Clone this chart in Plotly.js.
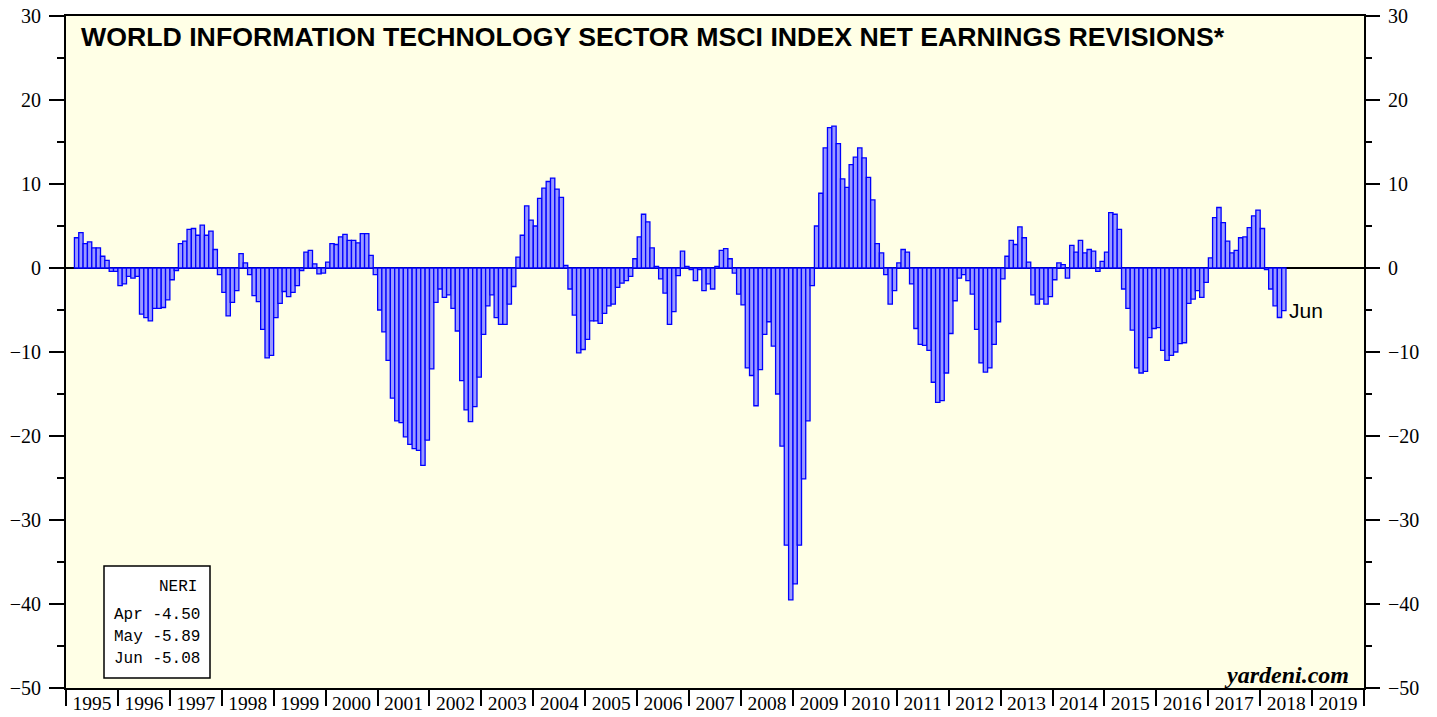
<!DOCTYPE html>
<html>
<head>
<meta charset="utf-8">
<script src="https://cdn.plot.ly/plotly-3.0.1.min.js"></script>
<style>html,body{margin:0;padding:0;background:#fff;}#chart{width:1437px;height:717px;}</style>
</head>
<body>
<div id="chart"></div>
<script>
// Monthly NERI values, starting March 1995
const startYear = 1995, startMonth = 3;
const y1995 = [3.6, 4.2, 2.9, 3.1, 2.4, 2.4, 1.4, 0.9, -0.4, -0.4];
const y1996 = [-2.1, -1.9, -1.0, -1.2, -1.0, -5.5, -5.9, -6.3, -4.8, -4.8, -4.7, -3.8];
const y1997 = [-1.4, -0.3, 2.9, 3.2, 4.6, 4.7, 3.9, 5.1, 3.9, 4.4, 2.2, -0.8];
const y1998 = [-2.9, -5.7, -4.1, -2.7, 1.7, 0.6, -0.8, -3.3, -4.0, -7.3, -10.7, -10.4];
const y1999 = [-5.9, -4.2, -2.8, -3.4, -2.9, -2.1, -0.3, 1.9, 2.1, 0.5, -0.7, -0.6];
const y2000 = [0.7, 2.9, 2.8, 3.7, 4.0, 3.3, 3.3, 3.0, 4.1, 4.1, 1.5, -0.8];
const y2001 = [-5.0, -7.6, -11.0, -15.5, -18.2, -18.4, -20.1, -21.0, -21.5, -21.7, -23.5, -20.5];
const y2002 = [-12.0, -4.1, -2.5, -3.5, -3.2, -4.8, -7.5, -13.4, -16.9, -18.3, -16.5, -13.0];
const y2003 = [-7.9, -4.5, -3.2, -5.9, -6.7, -6.7, -4.3, -2.2, 1.3, 3.9, 7.4, 5.7];
const y2004 = [5.0, 8.3, 9.5, 10.3, 10.7, 9.4, 8.4, 0.3, -2.5, -5.6, -10.1, -9.7];
const y2005 = [-8.5, -6.3, -6.3, -6.6, -5.4, -4.5, -4.3, -2.3, -1.8, -1.5, -1.0, 1.1];
const y2006 = [3.7, 6.4, 5.5, 2.4, 0.2, -1.3, -3.0, -6.7, -5.2, -0.9, 2.0, 0.2];
const y2007 = [-0.2, -1.5, -0.2, -2.7, -1.9, -2.5, 0.2, 2.1, 2.3, 1.1, -0.6, -3.1];
const y2008 = [-4.4, -11.9, -12.8, -16.4, -12.1, -7.9, -6.4, -9.3, -15.0, -21.2, -33.0, -39.5];
const y2009 = [-37.6, -33.0, -25.1, -18.2, -2.1, 5.0, 8.9, 14.3, 16.7, 16.9, 14.8, 10.6];
const y2010 = [9.6, 12.3, 13.2, 14.3, 13.1, 10.8, 8.1, 2.9, 1.8, -0.8, -4.3, -2.7];
const y2011 = [0.6, 2.2, 1.9, -1.9, -7.2, -9.1, -9.2, -9.8, -13.6, -16.0, -15.8, -12.5];
const y2012 = [-7.8, -3.9, -1.2, -0.8, -1.5, -3.1, -7.3, -11.3, -12.4, -11.9, -9.1, -6.4];
const y2013 = [-1.3, 1.4, 3.3, 2.8, 4.9, 3.6, 0.7, -3.2, -4.3, -3.7, -4.3, -3.4];
const y2014 = [-1.4, 0.6, 0.4, -1.2, 2.7, 1.9, 3.3, 1.8, 2.2, 2.0, -0.4, 0.8];
const y2015 = [1.9, 6.6, 6.4, 4.6, -2.5, -4.8, -7.4, -11.9, -12.5, -12.3, -8.3, -7.2];
const y2016 = [-7.1, -9.8, -11.0, -10.4, -10.0, -9.0, -8.9, -4.2, -3.7, -2.7, -3.5, -1.7];
const y2017 = [1.2, 6.0, 7.2, 5.4, 3.2, 1.8, 2.1, 3.6, 3.7, 4.8, 6.2, 6.9];
const y2018 = [4.7, -0.2, -2.5, -4.50, -5.89, -5.08];

const monthNames = ['Jan','Feb','Mar','Apr','May','Jun','Jul','Aug','Sep','Oct','Nov','Dec'];
const titleText = 'WORLD INFORMATION TECHNOLOGY SECTOR MSCI INDEX NET EARNINGS REVISIONS*';

const neri = [].concat(y1995, y1996, y1997, y1998, y1999, y2000, y2001, y2002, y2003,
  y2004, y2005, y2006, y2007, y2008, y2009, y2010, y2011, y2012, y2013, y2014, y2015,
  y2016, y2017, y2018);

const pad = n => (n < 10 ? '0' : '') + n;
const dates = neri.map((v, i) => {
  const k = startMonth - 1 + i;
  const yr = startYear + Math.floor(k / 12);
  const mo = (k % 12) + 1;
  return yr + '-' + pad(mo) + '-01';
});
const lastIdx = neri.length - 1;
const lastMonthIdx = (startMonth - 1 + lastIdx) % 12;

const monthMs = 365.25 / 12 * 86400000;

const bars = {
  type: 'bar', x: dates, y: neri,
  xperiod: 'M1', xperiodalignment: 'middle',
  width: monthMs,
  marker: {color: '#9a9aff', line: {color: '#0000ff', width: 1.3}},
  hoverinfo: 'x+y', showlegend: false
};
const ghost = {
  type: 'scatter', mode: 'markers', x: [dates[0]], y: [0], yaxis: 'y2',
  marker: {opacity: 0}, hoverinfo: 'skip', showlegend: false
};

const tickFont = {family: 'Liberation Serif, Times New Roman, serif', size: 20, color: '#000'};
const xTickFont = {family: 'Liberation Serif, Times New Roman, serif', size: 19.5, color: '#000'};
const yCommon = {
  range: [-50, 30], dtick: 10, tick0: 0,
  ticks: 'outside', ticklen: 15, tickwidth: 2, tickcolor: '#000',
  minor: {dtick: 5, tick0: 0, ticks: 'outside', ticklen: 7, tickwidth: 2, tickcolor: '#000'},
  showgrid: false, tickfont: tickFont, ticklabelstandoff: 4,
  fixedrange: true
};

const px = x => (x - 66) / 1298;
const py = y => (688 - y) / 672;

const legendLines = [];
for (let j = 2; j >= 0; j--) {
  const idx = lastIdx - j;
  const mname = monthNames[(lastMonthIdx - j + 12) % 12];
  legendLines.push(mname + ' ' + neri[idx].toFixed(2));
}
const monoFont = {family: 'Liberation Mono, Courier New, monospace', size: 16, color: '#000'};

const annotations = [
  {xref: 'paper', yref: 'paper', x: px(79), y: py(37), xanchor: 'left', yanchor: 'middle',
   text: titleText, showarrow: false,
   font: {family: 'Liberation Sans, Arial, sans-serif', size: 26.7, color: '#000', weight: 'bold'}},
  {xref: 'x', yref: 'y', x: dates[lastIdx], y: neri[lastIdx], xanchor: 'left', yanchor: 'middle',
   xshift: 5, yshift: 0,
   text: monthNames[lastMonthIdx], showarrow: false,
   font: {family: 'Liberation Sans, Arial, sans-serif', size: 21, color: '#000'}},
  {xref: 'paper', yref: 'paper', x: px(1351), y: py(675), xanchor: 'right', yanchor: 'middle',
   text: '<b><i>yardeni.com</i></b>', showarrow: false,
   font: {family: 'Liberation Serif, Times New Roman, serif', size: 24, color: '#000'}},
  {xref: 'paper', yref: 'paper', x: px(199), y: py(587), xanchor: 'right', yanchor: 'middle',
   text: 'NERI', showarrow: false, font: monoFont},
  {xref: 'paper', yref: 'paper', x: px(112), y: py(615), xanchor: 'left', yanchor: 'middle',
   text: legendLines[0], showarrow: false, font: monoFont},
  {xref: 'paper', yref: 'paper', x: px(112), y: py(637), xanchor: 'left', yanchor: 'middle',
   text: legendLines[1], showarrow: false, font: monoFont},
  {xref: 'paper', yref: 'paper', x: px(112), y: py(659), xanchor: 'left', yanchor: 'middle',
   text: legendLines[2], showarrow: false, font: monoFont}
];

const layout = {
  width: 1437, height: 717, autosize: false,
  margin: {l: 66, r: 73, t: 16, b: 29, pad: 0},
  paper_bgcolor: '#ffffff', plot_bgcolor: '#ffffe6',
  bargap: 0, showlegend: false,
  xaxis: {
    type: 'date', range: ['1995-01-01', '2020-01-01'],
    tick0: '1995-01-01', dtick: 'M12', tickformat: '%Y', ticklabelmode: 'period',
    ticks: 'outside', ticklen: 16, tickwidth: 2, tickcolor: '#000',
    showline: true, linewidth: 2, linecolor: '#000', mirror: true,
    showgrid: false, zeroline: false, tickfont: xTickFont, ticklabelstandoff: -19,
    fixedrange: true
  },
  yaxis: Object.assign({}, yCommon, {
    showline: true, linewidth: 2, linecolor: '#000', mirror: true,
    zeroline: true, zerolinecolor: '#000', zerolinewidth: 1.5
  }),
  yaxis2: Object.assign({}, yCommon, {
    overlaying: 'y', side: 'right', zeroline: false, showline: false
  }),
  shapes: [
    {type: 'rect', xref: 'paper', yref: 'paper', x0: px(104), x1: px(210), y0: py(678), y1: py(566),
     line: {color: '#000', width: 1.5}, fillcolor: '#ffffff', layer: 'above'}
  ],
  annotations: annotations
};

Plotly.newPlot('chart', [bars, ghost], layout, {displayModeBar: false, staticPlot: true});
</script>
</body>
</html>
